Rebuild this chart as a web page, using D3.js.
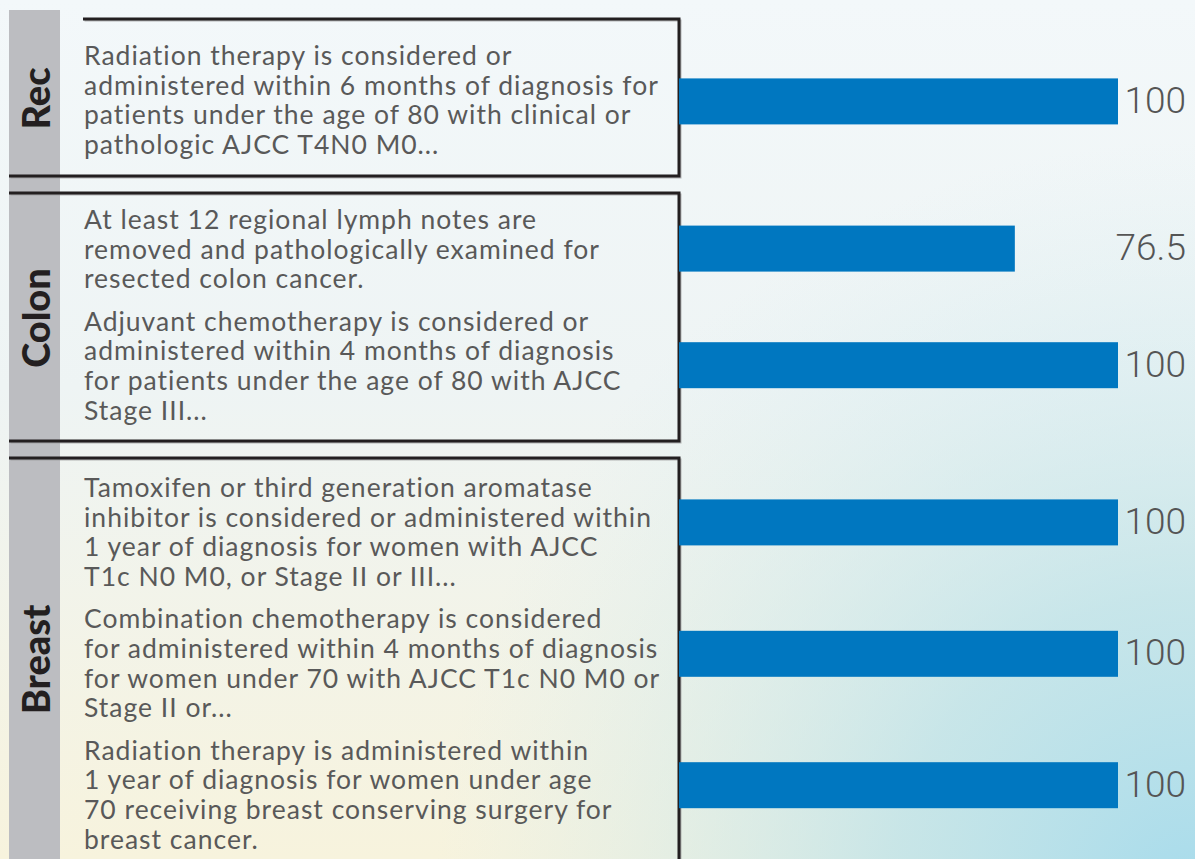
<!DOCTYPE html>
<html><head><meta charset="utf-8">
<script src="https://cdn.jsdelivr.net/npm/d3@7"></script>
<style>body{margin:0;overflow:hidden;background:#f3f7f9}</style>
</head><body>
<svg id="chart" width="1195" height="859"></svg>
<script>
// ---- data ----
const groups = ["Rec", "Colon", "Breast"];
const measureGroup = ["Rec", "Colon", "Colon", "Breast", "Breast", "Breast"];
const measureText = [
  ["Radiation therapy is considered or", "administered within 6 months of diagnosis for", "patients under the age of 80 with clinical or", "pathologic AJCC T4N0 M0..."],
  ["At least 12 regional lymph notes are", "removed and pathologically examined for", "resected colon cancer."],
  ["Adjuvant chemotherapy is considered or", "administered within 4 months of diagnosis", "for patients under the age of 80 with AJCC", "Stage III..."],
  ["Tamoxifen or third generation aromatase", "inhibitor is considered or administered within", "1 year of diagnosis for women with AJCC", "T1c N0 M0, or Stage II or III..."],
  ["Combination chemotherapy is considered", "for administered within 4 months of diagnosis", "for women under 70 with AJCC T1c N0 M0 or", "Stage II or..."],
  ["Radiation therapy is administered within", "1 year of diagnosis for women under age", "70 receiving breast conserving surgery for", "breast cancer."]
];
const values = [100, 76.5, 100, 100, 100, 100];
const valueLabels = ["100", "76.5", "100", "100", "100", "100"];

// ---- layout ----
const W = 1195, H = 859;
const svg = d3.select("#chart");
const defs = svg.append("defs");

const lg = defs.append("linearGradient").attr("id", "bgv").attr("x1", 0).attr("y1", 0).attr("x2", 0).attr("y2", 1);
lg.append("stop").attr("offset", "0%").attr("stop-color", "#f3f8fa");
lg.append("stop").attr("offset", "45%").attr("stop-color", "#eef4f4");
lg.append("stop").attr("offset", "100%").attr("stop-color", "#f7f3dd");
const rg = defs.append("radialGradient").attr("id", "bgr").attr("gradientUnits", "userSpaceOnUse")
  .attr("cx", 1195).attr("cy", 900).attr("r", 760);
rg.append("stop").attr("offset", "0%").attr("stop-color", "#a6dbec").attr("stop-opacity", 1);
rg.append("stop").attr("offset", "40%").attr("stop-color", "#b9e1ea").attr("stop-opacity", 0.75);
rg.append("stop").attr("offset", "100%").attr("stop-color", "#d6ecf0").attr("stop-opacity", 0);

svg.append("rect").attr("width", W).attr("height", H).attr("fill", "url(#bgv)");
svg.append("rect").attr("width", W).attr("height", H).attr("fill", "url(#bgr)");

// side bar
svg.append("rect").attr("x", 9).attr("y", 10).attr("width", 51).attr("height", H - 10).attr("fill", "#bcbdc1");

// box geometry per group
const boxTop = {Rec: 19, Colon: 193, Breast: 458};
const boxBottom = {Rec: 176, Colon: 441, Breast: 870};
const boxTopStart = {Rec: 83, Colon: 9, Breast: 9};
const padTop = {Rec: 36, Colon: 26, Breast: 29};
const barShift = {Rec: 2, Colon: 0, Breast: -9};
const lineH = 29.6, measureGap = 13;
const x0 = 679;

// compute text block positions
const blocks = [];
groups.forEach(g => {
  let y = boxTop[g] + padTop[g];
  measureText.forEach((lines, i) => {
    if (measureGroup[i] !== g) return;
    const first = y;
    const last = y + (lines.length - 1) * lineH;
    blocks[i] = {first, center: (first + last) / 2, g};
    y = last + lineH + measureGap;
  });
});

// boxes
const boxG = svg.append("g");
groups.forEach(g => {
  const pts = [[boxTopStart[g], boxTop[g]], [x0, boxTop[g]], [x0, boxBottom[g]], [9, boxBottom[g]]];
  boxG.append("polyline").attr("points", pts.map(p => [p[0] + 1.5, p[1] + 1.5].join(",")).join(" "))
    .attr("fill", "none").attr("stroke", "#9a9a9a").attr("stroke-width", 2).attr("opacity", 0.7);
  boxG.append("polyline").attr("points", pts.map(p => p.join(",")).join(" "))
    .attr("fill", "none").attr("stroke", "#231f20").attr("stroke-width", 3);
});

// group labels
groups.forEach(g => {
  const c = (boxTop[g] + Math.min(boxBottom[g], H)) / 2 + 1;
  svg.append("text")
    .attr("transform", `translate(35,${c}) rotate(-90)`)
    .attr("text-anchor", "middle").attr("dominant-baseline", "central")
    .attr("font-family", "Lato, 'Open Sans', sans-serif").attr("font-weight", 900)
    .attr("font-size", 38).attr("fill", "#231f20")
    .text(g);
});

// measure texts
measureText.forEach((lines, i) => {
  const t = svg.append("text").attr("font-family", "Lato, 'Open Sans', sans-serif")
    .attr("font-size", 26.5).attr("letter-spacing", 1.0).attr("fill", "#595959");
  lines.forEach((l, j) => {
    t.append("tspan").attr("x", 84).attr("y", blocks[i].first + j * lineH)
      .attr("dominant-baseline", "central").text(l);
  });
});

// bars
const x = d3.scaleLinear().domain([0, 100]).range([x0, 1118]);
const barH = 46;
const barData = values.map((v, i) => ({v, lab: valueLabels[i], cy: blocks[i].center + barShift[measureGroup[i]]}));
svg.append("g").selectAll("rect").data(barData).join("rect")
  .attr("x", x(0)).attr("y", d => d.cy - barH / 2)
  .attr("width", d => x(d.v) - x(0)).attr("height", barH)
  .attr("fill", "#0077c0");
svg.append("g").selectAll("text").data(barData).join("text")
  .attr("x", 1186).attr("y", d => d.cy - 1)
  .attr("text-anchor", "end").attr("dominant-baseline", "central")
  .attr("font-family", "Roboto, sans-serif").attr("font-weight", 300)
  .attr("font-size", 37).attr("fill", "#555")
  .text(d => d.lab);
</script>
</body></html>
